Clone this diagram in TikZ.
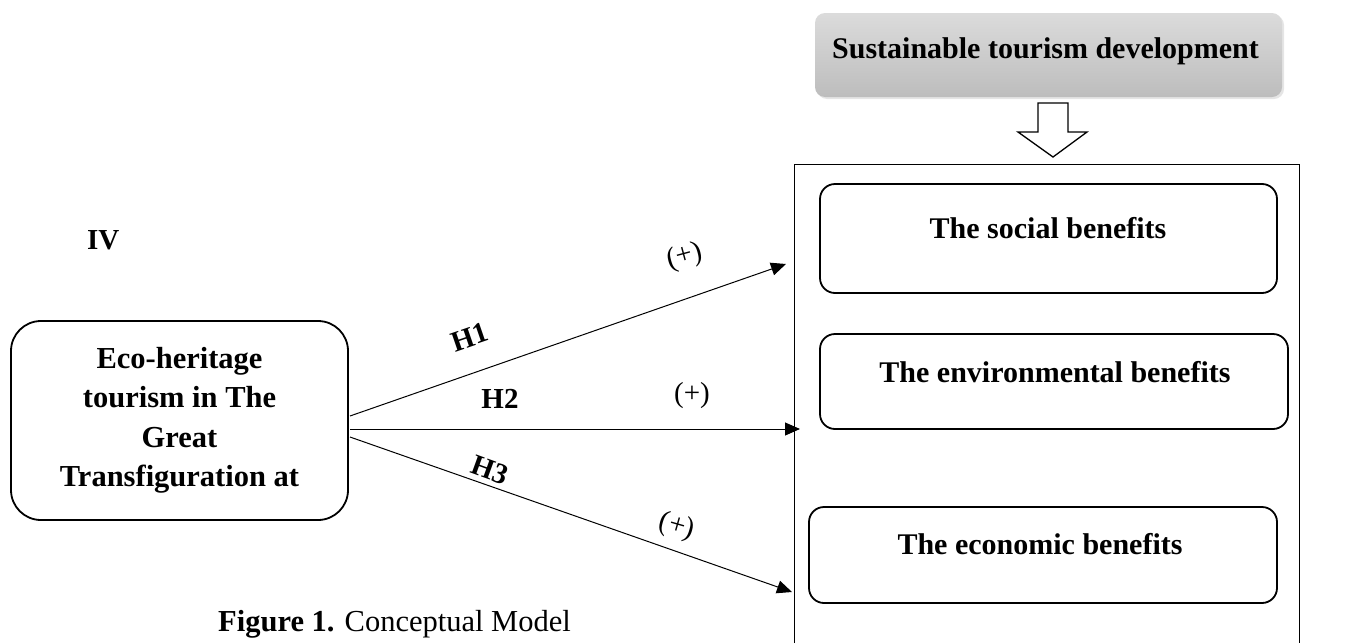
\documentclass[tikz,border=0pt]{standalone}
\usepackage{fontspec}
\setmainfont{Liberation Serif}
\usetikzlibrary{arrows.meta,shadows}
\begin{document}
\begin{tikzpicture}[x=1pt,y=-1pt,
  box/.style={draw, line width=1.8pt, rounded corners=15pt, inner sep=0pt},
  txt/.style={font=\fontsize{30}{36}\selectfont\bfseries, inner sep=0pt},
  lbl/.style={font=\fontsize{29}{34}\selectfont\bfseries, inner sep=0pt},
  plus/.style={font=\fontsize{29}{34}\selectfont, inner sep=0pt},
  conn/.style={line width=1pt, -{Triangle[length=15pt,width=13pt]}}]
\useasboundingbox (0,0) rectangle (1349,643);
\fill[white] (0,0) rectangle (1349,643);
% top gray box
\node[top color=gray!28, bottom color=gray!52, draw=none, rounded corners=10pt,
      minimum width=467pt, minimum height=84pt, inner sep=0pt,
      drop shadow={opacity=0.2, shadow xshift=2pt, shadow yshift=-2pt}] (std) at (1048.5,55) {};
\node[txt, anchor=base] (stdt) at (1045.5,58) {Sustainable tourism development};
% hollow arrow
\draw[line width=1.3pt, line join=miter] (1038,103) -- (1068,103) -- (1068,132) -- (1087,132)
   -- (1053,157) -- (1018,132) -- (1038,132) -- cycle;
% frame
\draw[line width=1pt] (794,643) -- (794,164) -- (1299,164) -- (1299,643);
% benefit boxes
\node[box, minimum width=457pt, minimum height=109pt] (soc) at (1048.5,238.5) {};
\node[txt, anchor=base] (soct) at (1048,238) {The social benefits};
\node[box, minimum width=468pt, minimum height=95pt] (env) at (1054,381.5) {};
\node[txt, anchor=base] (envt) at (1055,382) {The environmental benefits};
\node[box, minimum width=468pt, minimum height=96pt] (eco) at (1043,555) {};
\node[txt, anchor=base] (ecot) at (1040,554) {The economic benefits};
% left box
\node[box, rounded corners=30pt, minimum width=337pt, minimum height=199pt, align=center,
      font=\fontsize{30.5}{39.5}\selectfont\bfseries] (iv) at (179.5,420.5)
      {Eco-heritage\\tourism in The\\Great\\Transfiguration at};
\node[lbl, anchor=base west] (ivl) at (87,249) {IV};
% connectors
\coordinate (s1) at (350,416);
\coordinate (s2) at (350,429);
\coordinate (s3) at (350,437);
\coordinate (e1) at (786,264);
\coordinate (e2) at (800,429);
\coordinate (e3) at (792,592);
\draw[conn] (s1) -- (e1);
\draw[conn] (s2) -- (e2);
\draw[conn] (s3) -- (e3);
% labels
\node[lbl, rotate=19] (h1) at (470,337) {H1};
\node[plus, rotate=15] (p1) at (685,257) {(+)};
\node[lbl] (h2) at (500,399) {H2};
\node[plus] (p2) at (692,396) {(+)};
\node[lbl, rotate=-20] (h3) at (490,470) {H3};
\node[plus, rotate=-16] (p3) at (677,527) {(+)};
% caption
\node[anchor=base west, font=\fontsize{30.5}{36}\selectfont, inner sep=0pt] (cap) at (218,631)
  {\textbf{Figure 1.} Conceptual Model};
\end{tikzpicture}
\end{document}
